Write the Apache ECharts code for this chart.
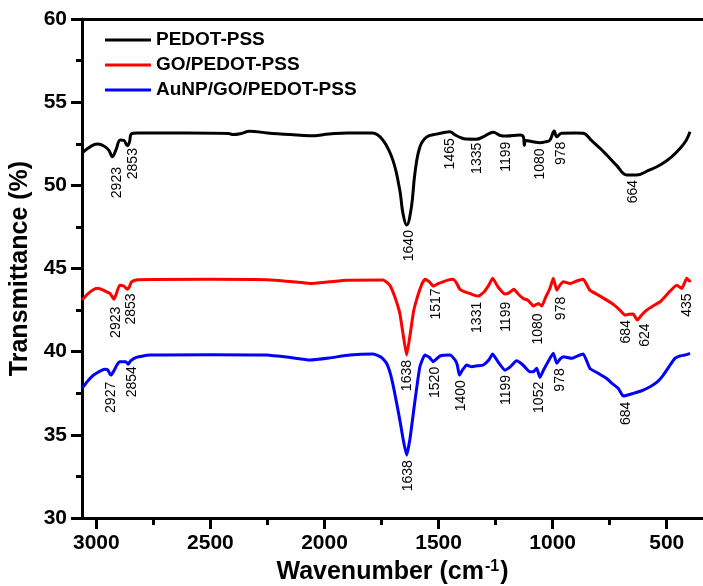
<!DOCTYPE html>
<html>
<head>
<meta charset="utf-8">
<script src="https://cdn.jsdelivr.net/npm/echarts@6/dist/echarts.min.js"></script>
<style>
html,body{margin:0;padding:0;background:#fff;}
#chart{width:703px;height:586px;}
</style>
</head>
<body>
<div id="chart"></div>
<script>
// ---- data (wavenumber cm^-1, transmittance %) ----
var seriesNames = ['PEDOT-PSS', 'GO/PEDOT-PSS', 'AuNP/GO/PEDOT-PSS'];
var seriesColors = ['#000000', '#ff0000', '#0000ff'];

var pedotPss = [[3063,51.94],[3040,52.2],[3010,52.45],[2994,52.48],[2965,52.35],[2945,52.1],[2930,51.72],[2915,52.1],[2895,52.72],[2880,52.7],[2864,52.38],[2855,52.6],[2846,53.1],[2820,53.15],[2600,53.15],[2420,53.12],[2400,53.05],[2370,53.1],[2328,53.25],[2250,53.15],[2150,53.05],[2064,52.98],[1980,53.08],[1900,53.15],[1790,53.15],[1744,52.72],[1700,51.5],[1670,49.7],[1656,48.3],[1640,47.61],[1619,48.7],[1604,50.7],[1582,52.3],[1553,52.9],[1509,53.08],[1465,53.2],[1450,53.22],[1430,53.05],[1400,52.85],[1380,52.78],[1335,52.77],[1300,52.95],[1260,53.19],[1230,53.0],[1202,52.96],[1143,53.02],[1128,52.9],[1124,52.4],[1118,52.7],[1080,52.6],[1056,52.56],[1030,52.62],[1012,52.72],[993,53.27],[982,52.92],[961,53.13],[900,53.15],[866,53.13],[830,52.7],[790,52.2],[763,51.82],[720,51.2],[675,50.62],[632,50.62],[580,50.9],[529,51.22],[480,51.7],[442,52.22],[415,52.7],[398,53.22]];

var goPedotPss = [[3063,43.1],[3040,43.45],[3010,43.75],[2993,43.81],[2970,43.7],[2956,43.6],[2940,43.5],[2923,43.15],[2912,43.5],[2898,44.0],[2880,43.95],[2864,43.75],[2855,43.9],[2846,44.2],[2820,44.33],[2500,44.35],[2250,44.33],[2150,44.22],[2064,44.1],[1980,44.2],[1900,44.3],[1743,44.31],[1714,44.0],[1692,43.3],[1670,42.3],[1655,41.0],[1640,39.8],[1625,41.0],[1610,42.4],[1597,43.1],[1575,44.0],[1560,44.35],[1540,44.2],[1524,43.94],[1500,44.1],[1480,44.2],[1460,44.3],[1436,44.35],[1420,44.1],[1407,43.75],[1385,43.6],[1363,43.5],[1345,43.4],[1326,43.34],[1300,43.6],[1280,44.0],[1263,44.41],[1240,43.9],[1209,43.46],[1190,43.55],[1170,43.75],[1150,43.45],[1129,43.2],[1110,43.1],[1095,42.9],[1085,42.74],[1063,42.9],[1048,42.74],[1030,43.3],[1012,43.8],[997,44.41],[982,43.7],[968,44.0],[953,44.2],[924,44.1],[895,44.25],[866,44.35],[837,43.7],[800,43.4],[763,43.1],[730,42.8],[705,42.5],[683,42.2],[665,42.25],[647,42.26],[629,41.9],[610,42.2],[588,42.5],[560,42.75],[529,43.0],[495,43.5],[456,44.0],[434,43.8],[412,44.41],[400,44.25],[395,44.3]];

var auGoPedotPss = [[3063,37.79],[3040,38.2],[3020,38.5],[3000,38.7],[2964,38.94],[2950,38.9],[2937,38.59],[2925,38.8],[2910,39.2],[2898,39.4],[2871,39.4],[2861,39.24],[2850,39.45],[2825,39.66],[2766,39.8],[2500,39.82],[2254,39.8],[2150,39.65],[2064,39.5],[1980,39.62],[1889,39.8],[1787,39.86],[1750,39.65],[1728,39.3],[1710,38.6],[1692,37.49],[1670,35.9],[1655,34.7],[1640,33.78],[1625,34.8],[1604,37.0],[1582,39.09],[1560,39.8],[1540,39.65],[1524,39.4],[1494,39.74],[1450,39.8],[1428,39.5],[1418,39.2],[1409,38.59],[1395,38.9],[1377,39.2],[1355,39.09],[1330,39.15],[1304,39.2],[1280,39.5],[1263,39.86],[1240,39.4],[1209,38.89],[1185,39.1],[1158,39.45],[1130,39.2],[1100,38.79],[1085,38.79],[1070,39.0],[1056,38.45],[1040,38.9],[1020,39.4],[997,39.9],[982,39.3],[968,39.55],[953,39.7],[917,39.6],[890,39.75],[866,39.86],[837,39.0],[800,38.7],[763,38.39],[740,38.1],[712,37.79],[690,37.33],[647,37.49],[610,37.65],[573,37.89],[540,38.2],[515,38.59],[490,39.1],[464,39.6],[442,39.74],[420,39.8],[398,39.9]];

// peak annotations: text, and the point where the top of the (vertical) text sits
var pedotPeakText = ['2923','2853','1640','1465','1335','1199','1080','978','664'];
var pedotPeakX    = [2911, 2840, 1630, 1450, 1329, 1202, 1056, 961, 647];
var pedotPeakY    = [51.1, 52.24, 47.31, 52.83, 52.56, 52.62, 52.22, 52.62, 50.32];

var goPeakText = ['2923','2853','1638','1517','1331','1199','1080','978','684','624','435'];
var goPeakX    = [2914, 2847, 1640, 1509, 1333, 1202, 1063, 961, 679, 595, 412];
var goPeakY    = [42.7, 43.5, 39.5, 43.8, 43.0, 43.0, 42.3, 43.3, 41.9, 41.7, 43.5];

var auPeakText = ['2927','2854','1638','1520','1400','1199','1052','978','684'];
var auPeakX    = [2934, 2842, 1633, 1516, 1399, 1202, 1059, 965, 679];
var auPeakY    = [38.19, 39.13, 33.48, 39.09, 38.29, 38.6, 38.19, 39.0, 36.99];

var xMajorTicks = [3000, 2500, 2000, 1500, 1000, 500];
var xMinorTicks = [2750, 2250, 1750, 1250, 750];
var xMin = 341, xMax = 3063;
var yMin = 30, yMax = 60, yInterval = 5;

// ---- build ----
var peakText = [], peakData = [];
[[pedotPeakText, pedotPeakX, pedotPeakY],
 [goPeakText, goPeakX, goPeakY],
 [auPeakText, auPeakX, auPeakY]].forEach(function (g) {
  for (var i = 0; i < g[0].length; i++) {
    peakText.push(g[0][i]);
    peakData.push([g[1][i], g[2][i]]);
  }
});

var FONT = 'Liberation Sans, Arial, sans-serif';
var LW = 3;
var chart = echarts.init(document.getElementById('chart'));

var xCommon = {
  type: 'value', min: xMin, max: xMax, inverse: true, gridIndex: 0,
  splitLine: {show: false}
};

var option = {
  backgroundColor: '#fff',
  animation: false,
  grid: {left: 82, right: 0, top: 19, bottom: 68, containLabel: false, outerBoundsMode: 'none'},
  legend: {
    orient: 'vertical', left: 100, top: 25,
    itemWidth: 46, itemHeight: 3, itemGap: 5,
    icon: 'rect',
    textStyle: {fontFamily: FONT, fontWeight: 'bold', fontSize: 19, color: '#000', lineHeight: 20},
    data: seriesNames
  },
  xAxis: [
    Object.assign({}, xCommon, {
      position: 'bottom',
      name: 'Wavenumber (cm{sup|-1})',
      nameLocation: 'middle', nameGap: 41,
      nameTextStyle: {fontFamily: FONT, fontWeight: 'bold', fontSize: 25, color: '#000',
        rich: {sup: {fontFamily: FONT, fontWeight: 'bold', fontSize: 16, color: '#000', verticalAlign: 'top', padding: [0, 1, 10, 1]}}},
      axisLine: {show: true, lineStyle: {color: '#000', width: LW}},
      axisTick: {show: true, inside: false, length: 11, customValues: xMajorTicks, lineStyle: {color: '#000', width: LW}},
      axisLabel: {show: true, margin: 15, customValues: xMajorTicks, fontFamily: FONT, fontWeight: 'bold', fontSize: 21, color: '#000',
        formatter: function (v) { return String(v); }}
    }),
    Object.assign({}, xCommon, {
      position: 'bottom',
      axisLine: {show: false},
      axisTick: {show: true, inside: false, length: 7, customValues: xMinorTicks, lineStyle: {color: '#000', width: LW}},
      axisLabel: {show: false}
    }),
    Object.assign({}, xCommon, {
      position: 'top',
      axisLine: {show: true, lineStyle: {color: '#000', width: LW}},
      axisTick: {show: false},
      axisLabel: {show: false}
    })
  ],
  yAxis: {
    type: 'value', min: yMin, max: yMax, interval: yInterval,
    name: 'Transmittance (%)', nameLocation: 'middle', nameGap: 44,
    nameTextStyle: {fontFamily: FONT, fontWeight: 'bold', fontSize: 25, color: '#000'},
    splitLine: {show: false},
    axisLine: {show: true, lineStyle: {color: '#000', width: LW}},
    axisTick: {show: true, inside: false, length: 11, lineStyle: {color: '#000', width: LW}},
    minorTick: {show: true, splitNumber: 2, length: 6, lineStyle: {color: '#000', width: LW}},
    axisLabel: {margin: 15, fontFamily: FONT, fontWeight: 'bold', fontSize: 21, color: '#000'}
  },
  series: [
    {name: seriesNames[0], type: 'line', xAxisIndex: 0, data: pedotPss, showSymbol: false, smooth: 0.4,
     lineStyle: {color: seriesColors[0], width: LW}, itemStyle: {color: seriesColors[0]}},
    {name: seriesNames[1], type: 'line', xAxisIndex: 0, data: goPedotPss, showSymbol: false, smooth: 0.15,
     lineStyle: {color: seriesColors[1], width: LW}, itemStyle: {color: seriesColors[1]}},
    {name: seriesNames[2], type: 'line', xAxisIndex: 0, data: auGoPedotPss, showSymbol: false, smooth: 0.15,
     lineStyle: {color: seriesColors[2], width: LW}, itemStyle: {color: seriesColors[2]}},
    {
      name: 'peaks', type: 'custom', xAxisIndex: 0, data: peakData, silent: true,
      renderItem: function (params, api) {
        var p = api.coord([api.value(0), api.value(1)]);
        return {
          type: 'text', x: p[0], y: p[1], rotation: Math.PI / 2,
          style: {text: peakText[params.dataIndex], fill: '#000', fontFamily: FONT, fontSize: 14,
                  align: 'right', verticalAlign: 'middle'}
        };
      }
    }
  ]
};
chart.setOption(option);
</script>
</body>
</html>
